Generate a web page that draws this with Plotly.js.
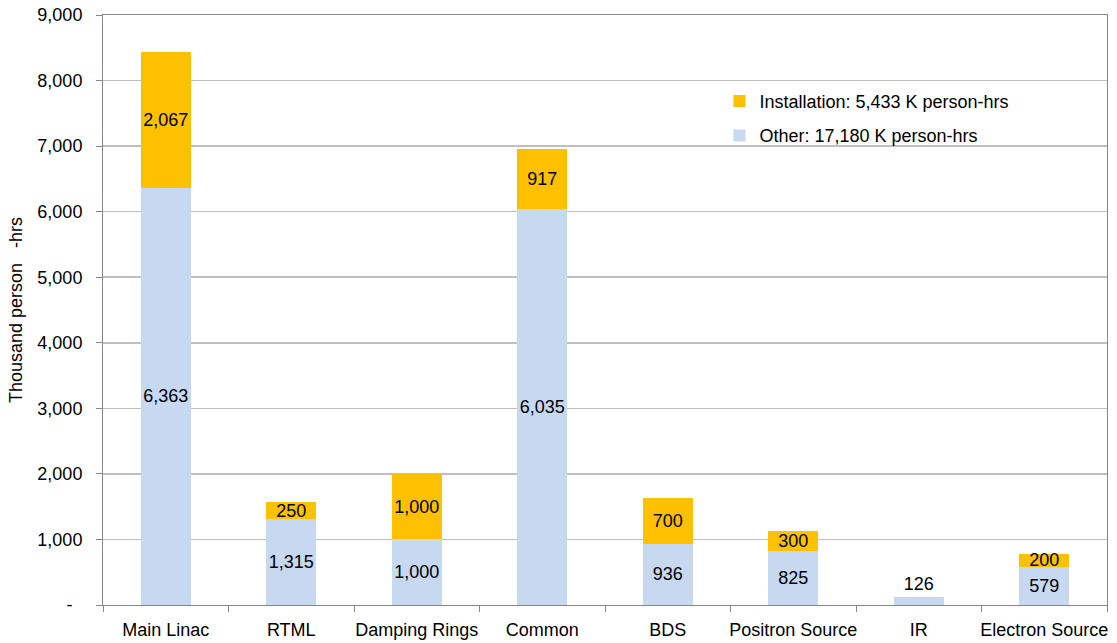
<!DOCTYPE html>
<html>
<head>
<meta charset="utf-8">
<script src="https://cdn.plot.ly/plotly-3.0.1.min.js"></script>
<style>html,body{margin:0;padding:0;background:#fff;}#chart{width:1117px;height:643px;}</style>
</head>
<body>
<div id="chart"></div>
<script>
const categories = ["Main Linac", "RTML", "Damping Rings", "Common", "BDS", "Positron Source", "IR", "Electron Source"];
const otherValues = [6363, 1315, 1000, 6035, 936, 825, 126, 579];
const installationValues = [2067, 250, 1000, 917, 700, 300, null, 200];
const yTickVals = [0, 1000, 2000, 3000, 4000, 5000, 6000, 7000, 8000, 9000];
const yTickText = ["-\u00a0\u00a0", "1,000", "2,000", "3,000", "4,000", "5,000", "6,000", "7,000", "8,000", "9,000"];
const legendOther = "Other: 17,180 K person-hrs";
const legendInstallation = "Installation: 5,433 K person-hrs";

const FONT = "Liberation Sans, Arial, sans-serif";
const FS = 18;

const traces = [
  {
    type: "bar", name: legendOther, x: categories, y: otherValues,
    marker: {color: "#C6D9F0", line: {width: 0}},
    width: 0.4,
    texttemplate: "%{y:,}", textposition: "auto", textangle: 0,
    insidetextanchor: "middle", constraintext: "none",
    textfont: {family: FONT, size: FS, color: "#000"},
    legendgroup: "b", legendrank: 2, hoverinfo: "none"
  },
  {
    type: "bar", name: legendInstallation, x: categories, y: installationValues,
    marker: {color: "#FFC000", line: {width: 0}},
    width: 0.4,
    texttemplate: "%{y:,}", textposition: "inside", textangle: 0,
    insidetextanchor: "middle", constraintext: "none",
    textfont: {family: FONT, size: FS, color: "#000"},
    legendgroup: "a", legendrank: 1, hoverinfo: "none"
  }
];

const layout = {
  width: 1117, height: 643,
  margin: {l: 103, r: 10, t: 15, b: 38},
  paper_bgcolor: "#fff", plot_bgcolor: "#fff",
  barmode: "stack",
  font: {family: FONT, size: FS, color: "#000"},
  showlegend: true,
  legend: {
    x: 0.614, y: 0.885, xanchor: "left", yanchor: "top",
    traceorder: "grouped", tracegroupgap: 8,
    bgcolor: "rgba(255,255,255,0)", borderwidth: 0,
    font: {family: FONT, size: FS, color: "#000"}
  },
  xaxis: {
    type: "category",
    tickson: "boundaries",
    tickangle: 0,
    ticks: "outside", ticklen: 6, tickcolor: "#868686",
    ticklabelstandoff: 8,
    showline: true, linecolor: "#868686", linewidth: 1, mirror: true,
    showgrid: false, zeroline: false,
    tickfont: {family: FONT, size: FS, color: "#000"}
  },
  yaxis: {
    range: [0, 9000],
    tickvals: yTickVals, ticktext: yTickText,
    ticks: "outside", ticklen: 6, tickcolor: "#868686",
    ticklabelstandoff: 10,
    showline: true, linecolor: "#868686", linewidth: 1, mirror: true,
    showgrid: true, gridcolor: "#BFBFBF", gridwidth: 1.5,
    zeroline: false,
    tickfont: {family: FONT, size: FS, color: "#000"},
    title: {text: "Thousand person\u00a0\u00a0\u00a0-hrs", font: {family: FONT, size: FS, color: "#000"}, standoff: 10}
  }
};

Plotly.newPlot("chart", traces, layout, {displayModeBar: false, staticPlot: true});
</script>
</body>
</html>
